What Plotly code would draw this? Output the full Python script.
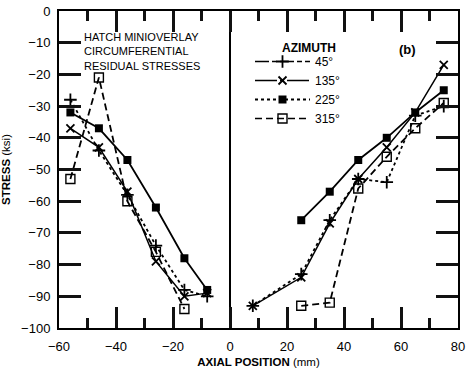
import plotly.graph_objects as go

# Axial positions (mm); None separates the two sides of the weld
positions = [-56, -46, -36, -26, -16, -8, None, 8, 25, 35, 45, 55, 65, 75]

# Circumferential residual stress (ksi) per azimuth
stress_45 = [-28, -44, -58, -74, -88, -90, None, -93, -83, -66, -53, -54, -33, -30]
stress_135 = [-37, -43, -57, -79, -90, -89, None, -93, -84, -67, -53, -43, -32, -17]
stress_225 = [-32, -37, -47, -62, -78, -88, None, None, -66, -57, -47, -40, -32, -25]
stress_315 = [-53, -21, -60, -76, -94, None, None, None, -93, -92, -56, -46, -37, -29]

series_names = ["45°", "135°", "225°", "315°"]
x_ticks = [-60, -40, -20, 0, 20, 40, 60, 80]
x_minor_ticks = [-50, -30, -10, 10, 30, 50, 70]
y_ticks = [0, -10, -20, -30, -40, -50, -60, -70, -80, -90, -100]

INK = "black"
FONT = "Liberation Sans"

W, H = 476, 368
ML, MR, MT, MB = 59, 18, 11, 40
PW, PH = W - ML - MR, H - MT - MB


def px_x(x):  # window pixel -> paper fraction
    return (x - ML) / PW


def px_y(y):
    return 1 - (y - MT) / PH


fig = go.Figure()

plot_styles = [
    (stress_45, dict(dash="dot", width=1.8), dict(symbol="cross-thin-open", size=9, line=dict(width=1.8, color=INK))),
    (stress_135, dict(dash="solid", width=1.5), dict(symbol="x-thin-open", size=8, line=dict(width=1.8, color=INK))),
    (stress_225, dict(dash="solid", width=1.8), dict(symbol="square", size=8, color=INK)),
    (stress_315, dict(dash="7px,4px", width=1.8), dict(symbol="square-open", size=9, line=dict(width=1.4, color=INK))),
]
for name, (vals, line, marker) in zip(series_names, plot_styles):
    line["color"] = INK
    if "color" not in marker:
        marker["color"] = INK
    fig.add_trace(go.Scatter(x=positions, y=vals, mode="lines+markers", name=name,
                             line=line, marker=marker, connectgaps=False, showlegend=False))

# Legend entries styled as in the printed legend
legend_styles = [
    (dict(dash="14px,3px,5px,3px", width=1.6), dict(symbol="cross-thin-open", size=9, line=dict(width=1.8, color=INK))),
    (dict(dash="22px,3px,4px,3px", width=1.6), dict(symbol="x-thin-open", size=8, line=dict(width=1.8, color=INK))),
    (dict(dash="dot", width=1.8), dict(symbol="square", size=8)),
    (dict(dash="7px,4px", width=1.6), dict(symbol="square-open", size=9, line=dict(width=1.4, color=INK))),
]
for name, (line, marker) in zip(series_names, legend_styles):
    line["color"] = INK
    marker["color"] = INK
    fig.add_trace(go.Scatter(x=[None], y=[None], mode="lines+markers", name=name,
                             line=line, marker=marker, showlegend=True))

fig.update_xaxes(
    range=[-60, 80], tickmode="array", tickvals=x_ticks,
    ticks="inside", ticklen=21, tickwidth=2.5, tickcolor="#111111",
    minor=dict(tickvals=x_minor_ticks, ticks="inside", ticklen=10, tickwidth=2.5, tickcolor="#111111"),
    ticklabelstandoff=5,
    showline=True, linecolor=INK, linewidth=2, mirror="ticks", showgrid=False,
    zeroline=True, zerolinecolor=INK, zerolinewidth=1.6,
    tickfont=dict(family=FONT, size=13, color=INK),
    title=dict(text="<b>AXIAL POSITION</b> (mm)", font=dict(family=FONT, size=11.5, color=INK), standoff=5),
)
fig.update_yaxes(
    range=[-100, 0], tickmode="array", tickvals=y_ticks,
    ticks="inside", ticklen=22, tickwidth=2.5, tickcolor="#111111",
    ticklabelstandoff=4,
    showline=True, linecolor=INK, linewidth=2, mirror="ticks", showgrid=False, zeroline=False,
    tickfont=dict(family=FONT, size=13, color=INK),
    title=dict(text="<b>STRESS</b> (ksi)", font=dict(family=FONT, size=11.5, color=INK), standoff=8),
)

fig.add_annotation(
    x=px_x(82), y=px_y(29), xref="paper", yref="paper",
    xanchor="left", yanchor="top", showarrow=False, align="left",
    text="HATCH MINIOVERLAY<br>CIRCUMFERENTIAL<br>RESIDUAL STRESSES",
    font=dict(family=FONT, size=11, color=INK),
)
fig.add_annotation(
    x=px_x(418), y=px_y(40), xref="paper", yref="paper", showarrow=False,
    text="<b>(b)</b>", font=dict(family=FONT, size=13, color=INK),
)
fig.add_annotation(
    x=px_x(338), y=px_y(39), xref="paper", yref="paper", showarrow=False,
    text="<b>AZIMUTH</b>", font=dict(family=FONT, size=12, color=INK),
)

fig.update_layout(
    width=W, height=H,
    margin=dict(l=ML, r=MR, t=MT, b=MB, autoexpand=False),
    paper_bgcolor="white", plot_bgcolor="white",
    font=dict(family=FONT, color=INK),
    legend=dict(
        x=px_x(250), y=px_y(47), xanchor="left", yanchor="top",
        bgcolor="rgba(0,0,0,0)", borderwidth=0,
        font=dict(family=FONT, size=12, color=INK),
        tracegroupgap=0, itemwidth=55,
    ),
)

# drop the browser's default 8px body margin so the figure fills the window
fig.write_html(
    "out.html",
    config={"displayModeBar": False},
    post_script="document.body.style.margin='0';document.body.style.overflow='hidden';",
)
